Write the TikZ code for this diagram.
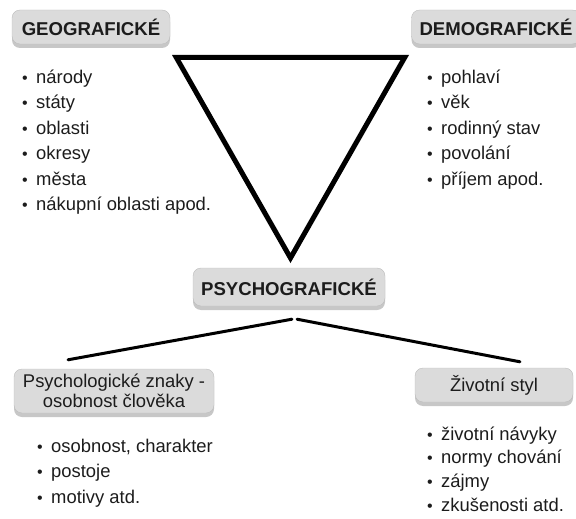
\documentclass[tikz,border=0pt]{standalone}
\usepackage{fontspec}
\setmainfont{Liberation Sans}
\usetikzlibrary{positioning,shadows}

\definecolor{boxgray}{RGB}{219,219,219}
\definecolor{boxedge}{RGB}{188,188,188}
\definecolor{ink}{RGB}{28,28,28}

% bullet in front of each item (with a strut, so the first line is 19pt high)
\newcommand{\itm}{\rule[-4pt]{0pt}{23pt}\makebox[14pt][l]{\fontsize{16}{16}\selectfont\textbullet}}

\begin{document}
\begin{tikzpicture}[
    x=1pt, y=-1pt, % pixel-like coordinates, y grows downwards
    segment/.style={
        rectangle, draw=boxedge, fill=boxgray, rounded corners=8pt,
        align=center, text=ink, inner xsep=8pt, inner ysep=3pt,
        minimum height=34pt, minimum width=158pt,
        drop shadow={shadow xshift=0pt, shadow yshift=-4pt, fill=black, opacity=0.22},
        font=\bfseries\fontsize{18.6}{20}\selectfont
    },
    % Group styles for the two kinds of boxes
    subseg/.style={segment, font=\fontsize{18.4}{19.5}\selectfont},
    items/.style={align=left, anchor=north west, inner sep=0pt, text=ink,
        font=\fontsize{18.4}{25.5}\selectfont},
    link/.style={line width=3pt, line cap=round}
]
    \useasboundingbox (0,0) rectangle (576,519);

    % --- TOP: the three kinds of criteria ---
    \node[segment] (Geo) at (91,27) {GEOGRAFICKÉ};
    \node[segment] (Demo) at (496,27) {DEMOGRAFICKÉ};
    \node[segment, minimum height=38pt, minimum width=192pt] (Psycho) at (289,287) {PSYCHOGRAFICKÉ};

    % the triangle between them
    \draw[line width=5pt, line join=miter] (176.3,57.5) -- (404.7,57.5) -- (290.5,258) -- cycle;

    % --- LISTS under the top boxes (first baseline 19pt below the top) ---
    \node[items] (GeoList) at (22,64) {\itm národy\\\itm státy\\\itm oblasti\\\itm okresy\\\itm města\\\itm nákupní oblasti apod.};
    \node[items] (DemoList) at (427,64) {\itm pohlaví\\\itm věk\\\itm rodinný stav\\\itm povolání\\\itm příjem apod.};

    % --- BOTTOM: the two parts of the psychographic criteria ---
    \node[subseg, minimum height=44pt, minimum width=200pt] (Traits) at (114,391) {Psychologické znaky -\\osobnost člověka};
    \node[subseg] (Lifestyle) at (494,385) {Životní styl};

    \node[items] (TraitsList) at (37,433) {\itm osobnost, charakter\\\itm postoje\\\itm motivy atd.};
    \node[items, font=\fontsize{18.4}{23.6}\selectfont] (LifeList) at (427,421) {\itm životní návyky\\\itm normy chování\\\itm zájmy\\\itm zkušenosti atd.};

    % --- EDGES ---
    \coordinate (TraitsEnd) at ([xshift=-46pt, yshift=9pt]Traits.north);
    \coordinate (LifeEnd) at ([xshift=26pt, yshift=6pt]Lifestyle.north);
    \draw[link] ([xshift=3pt, yshift=-13pt]Psycho.south) -- (TraitsEnd);
    \draw[link] ([xshift=8pt, yshift=-13pt]Psycho.south) -- (LifeEnd);

\end{tikzpicture}
\end{document}
